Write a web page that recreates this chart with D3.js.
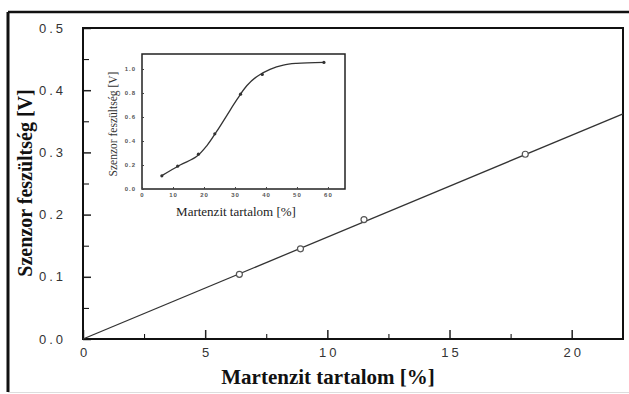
<!DOCTYPE html>
<html>
<head>
<meta charset="utf-8">
<script src="https://cdn.jsdelivr.net/npm/d3@7"></script>
<style>
  body { margin: 0; background: #fff; }
  svg { display: block; }
</style>
</head>
<body>
<script>
// Main chart data (martensite content vs sensor voltage)
const mainX = [6.4, 8.9, 11.5, 18.1];
const mainY = [0.104, 0.145, 0.192, 0.297];
// fitted straight line, endpoints
const fitX = [0, 22.1];
const fitY = [0, 0.362];

// Inset data
const insetX = [6.4, 11.5, 18.2, 23.5, 31.8, 38.8, 58.7];
const insetY = [0.11, 0.19, 0.29, 0.46, 0.79, 0.955, 1.055];
// smooth curve through the inset
const curveX = [6.4, 12.3, 17.6, 20.9, 24.1, 27.3, 30.5, 33.8, 37, 41.3, 45.6, 49.9, 58.7];
const curveY = [0.111, 0.2, 0.27, 0.36, 0.48, 0.61, 0.74, 0.86, 0.936, 0.997, 1.033, 1.047, 1.056];

const mainXTicks = [0, 5, 10, 15, 20];
const mainYTicks = [0, 0.1, 0.2, 0.3, 0.4, 0.5];
const insetXTicks = [0, 10, 20, 30, 40, 50, 60];
const insetYTicks = [0, 0.2, 0.4, 0.6, 0.8, 1.0];

const W = 629, H = 394;
const svg = d3.select("body").append("svg")
  .attr("width", W).attr("height", H);

svg.append("rect").attr("width", W).attr("height", H).attr("fill", "#fff");

// outer frame
svg.append("line").attr("x1", 8).attr("x2", W).attr("y1", 12).attr("y2", 12)
  .attr("stroke", "#111").attr("stroke-width", 2.5);
svg.append("line").attr("x1", 8).attr("x2", 8).attr("y1", 12).attr("y2", 392)
  .attr("stroke", "#111").attr("stroke-width", 3);
svg.append("line").attr("x1", 8).attr("x2", W).attr("y1", 392.5).attr("y2", 392.5)
  .attr("stroke", "#ddd").attr("stroke-width", 1);

// main plot box
const box = { left: 83, top: 28, right: 623, bottom: 339 };
const x = d3.scaleLinear().domain([0, 22.1]).range([box.left, box.right]);
const y = d3.scaleLinear().domain([0, 0.5]).range([box.bottom, box.top]);

const tickFont = "'Liberation Sans', Arial, sans-serif";

// minor ticks
svg.append("g").attr("transform", `translate(0,${box.bottom})`)
  .call(d3.axisBottom(x).tickValues(d3.range(2.5, 22, 5)).tickSize(-5).tickFormat(""))
  .call(g => g.select(".domain").remove());
svg.append("g").attr("transform", `translate(${box.left},0)`)
  .call(d3.axisLeft(y).tickValues(d3.range(0.05, 0.5, 0.1)).tickSize(-6).tickFormat(""))
  .call(g => g.select(".domain").remove());

// major ticks + labels
const xAxis = svg.append("g").attr("transform", `translate(0,${box.bottom})`)
  .call(d3.axisBottom(x).tickValues(mainXTicks).tickSize(-9).tickPadding(9)
    .tickFormat(d3.format("d")));
xAxis.select(".domain").remove();
const yAxis = svg.append("g").attr("transform", `translate(${box.left},0)`)
  .call(d3.axisLeft(y).tickValues(mainYTicks).tickSize(-8).tickPadding(17)
    .tickFormat(d3.format(".1f")));
yAxis.select(".domain").remove();

[xAxis, yAxis].forEach(g => {
  g.selectAll(".tick line").attr("stroke", "#222").attr("stroke-width", 1.5);
  g.selectAll(".tick text")
    .attr("font-family", tickFont).attr("font-size", 13)
    .attr("fill", "#333").attr("letter-spacing", "3px");
});
xAxis.selectAll(".tick text").attr("dx", "1.5px");

svg.append("rect")
  .attr("x", box.left).attr("y", box.top)
  .attr("width", box.right - box.left).attr("height", box.bottom - box.top)
  .attr("fill", "none").attr("stroke", "#111").attr("stroke-width", 2);

// fitted line
const fit = fitX.map((d, i) => [d, fitY[i]]);
svg.append("path").datum(fit)
  .attr("d", d3.line().x(d => x(d[0])).y(d => y(d[1])))
  .attr("fill", "none").attr("stroke", "#333").attr("stroke-width", 1.3);

// measured points
svg.append("g").selectAll("circle")
  .data(mainX.map((d, i) => [d, mainY[i]]))
  .join("circle")
  .attr("cx", d => x(d[0])).attr("cy", d => y(d[1])).attr("r", 3)
  .attr("fill", "#fff").attr("stroke", "#555").attr("stroke-width", 1.2);

// axis titles
const serif = "'Liberation Serif', 'Times New Roman', serif";
svg.append("text")
  .attr("x", 328).attr("y", 384)
  .attr("text-anchor", "middle")
  .attr("font-family", serif).attr("font-weight", "bold").attr("font-size", 21)
  .attr("fill", "#111")
  .text("Martenzit tartalom [%]");
svg.append("text")
  .attr("transform", "translate(32,183) rotate(-90)")
  .attr("text-anchor", "middle")
  .attr("font-family", serif).attr("font-weight", "bold").attr("font-size", 20)
  .attr("fill", "#111")
  .text("Szenzor feszültség [V]");

// ---- inset ----
const ib = { left: 142, top: 54, right: 345, bottom: 189 };
const ix = d3.scaleLinear().domain([0, 65.5]).range([ib.left, ib.right]);
const iy = d3.scaleLinear().domain([0, 1.125]).range([ib.bottom, ib.top]);

svg.append("rect")
  .attr("x", ib.left).attr("y", ib.top)
  .attr("width", ib.right - ib.left).attr("height", ib.bottom - ib.top)
  .attr("fill", "#fff").attr("stroke", "#222").attr("stroke-width", 1.5);

const ixAxis = svg.append("g").attr("transform", `translate(0,${ib.bottom})`)
  .call(d3.axisBottom(ix).tickValues(insetXTicks).tickSize(-2).tickPadding(4)
    .tickFormat(d3.format("d")));
const iyAxis = svg.append("g").attr("transform", `translate(${ib.left},0)`)
  .call(d3.axisLeft(iy).tickValues(insetYTicks).tickSize(-2).tickPadding(6)
    .tickFormat(d3.format(".1f")));
[ixAxis, iyAxis].forEach(g => {
  g.select(".domain").remove();
  g.selectAll(".tick line").attr("stroke", "#444");
  g.selectAll(".tick text")
    .attr("font-family", tickFont).attr("font-size", 6).attr("font-weight", "bold")
    .attr("fill", "#555").attr("letter-spacing", "1px");
});

svg.append("path").datum(curveX.map((d, i) => [d, curveY[i]]))
  .attr("d", d3.line().x(d => ix(d[0])).y(d => iy(d[1])).curve(d3.curveCatmullRom.alpha(0.5)))
  .attr("fill", "none").attr("stroke", "#333").attr("stroke-width", 1.3);

svg.append("g").selectAll("circle")
  .data(insetX.map((d, i) => [d, insetY[i]]))
  .join("circle")
  .attr("cx", d => ix(d[0])).attr("cy", d => iy(d[1])).attr("r", 1.6)
  .attr("fill", "#333");

svg.append("text")
  .attr("x", 236).attr("y", 216)
  .attr("text-anchor", "middle")
  .attr("font-family", serif).attr("font-size", 13)
  .attr("fill", "#222")
  .text("Martenzit tartalom [%]");
svg.append("text")
  .attr("transform", "translate(117,124) rotate(-90)")
  .attr("text-anchor", "middle")
  .attr("font-family", serif).attr("font-size", 11.5)
  .attr("fill", "#333")
  .text("Szenzor feszültség [V]");
</script>
</body>
</html>
